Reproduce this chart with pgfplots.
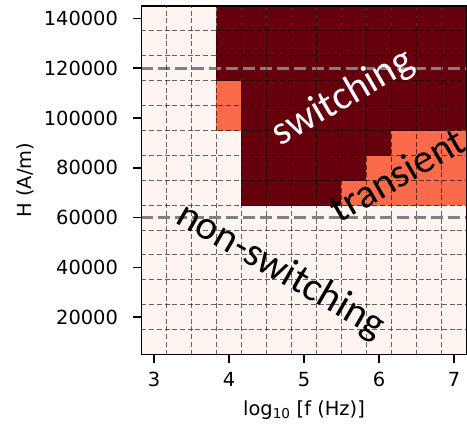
\documentclass[border=0pt]{standalone}
\usepackage{fontspec}
\setmainfont{DejaVu Sans}
\newfontfamily\calib{Carlito}
\usepackage{pgfplots}
\pgfplotsset{compat=1.18}

\begin{document}
\begin{tikzpicture}
\begin{axis}[
  at={(0,0)}, anchor=south west,
  scale only axis, width=325bp, height=348.5bp,
  xmin=2.8333, xmax=7.1667, ymin=5000, ymax=145000,
  xtick={3,4,5,6,7},
  xticklabels={3,4,5,6,7},
  ytick={20000,40000,60000,80000,100000,120000,140000},
  yticklabels={20000,40000,60000,80000,100000,120000,140000},
  minor xtick={3.1667,3.5,3.8333,4.1667,4.5,4.8333,5.1667,5.5,5.8333,6.1667,6.5,6.8333},
  minor ytick={15000,25000,35000,45000,55000,65000,75000,85000,95000,105000,115000,125000,135000},
  grid=minor,
  minor grid style={black, opacity=0.6, line width=1bp, dash pattern=on 5bp off 2.7bp},
  axis on top,
  tick align=outside, xtick pos=bottom, ytick pos=left,
  major tick length=8bp, minor tick length=0pt,
  every tick/.style={black, line width=1.5bp},
  axis line style={line width=1.6bp},
  tick label style={font=\fontsize{19.5}{23}\selectfont},
  yticklabel style={xshift=-12bp},
  xticklabel style={yshift=-6bp},
  scaled y ticks=false,
  colormap={reds}{rgb255=(255,245,240) rgb255=(251,106,74) rgb255=(103,0,13)},
  point meta min=0, point meta max=2,
  xlabel={log\textsubscript{10} [f (Hz)]},
  ylabel={H (A/m)},
  label style={font=\fontsize{19.5}{23}\selectfont},
  xlabel style={at={(axis description cs:0.5,-0.159)}, anchor=center},
  ylabel style={at={(axis description cs:-0.3585,0.5)}, anchor=center},
]
\addplot[matrix plot*, mesh/cols=13, point meta=explicit] coordinates {
(3,10000)[0] (3.3333,10000)[0] (3.6667,10000)[0] (4,10000)[0] (4.3333,10000)[0] (4.6667,10000)[0] (5,10000)[0] (5.3333,10000)[0] (5.6667,10000)[0] (6,10000)[0] (6.3333,10000)[0] (6.6667,10000)[0] (7,10000)[0]
(3,20000)[0] (3.3333,20000)[0] (3.6667,20000)[0] (4,20000)[0] (4.3333,20000)[0] (4.6667,20000)[0] (5,20000)[0] (5.3333,20000)[0] (5.6667,20000)[0] (6,20000)[0] (6.3333,20000)[0] (6.6667,20000)[0] (7,20000)[0]
(3,30000)[0] (3.3333,30000)[0] (3.6667,30000)[0] (4,30000)[0] (4.3333,30000)[0] (4.6667,30000)[0] (5,30000)[0] (5.3333,30000)[0] (5.6667,30000)[0] (6,30000)[0] (6.3333,30000)[0] (6.6667,30000)[0] (7,30000)[0]
(3,40000)[0] (3.3333,40000)[0] (3.6667,40000)[0] (4,40000)[0] (4.3333,40000)[0] (4.6667,40000)[0] (5,40000)[0] (5.3333,40000)[0] (5.6667,40000)[0] (6,40000)[0] (6.3333,40000)[0] (6.6667,40000)[0] (7,40000)[0]
(3,50000)[0] (3.3333,50000)[0] (3.6667,50000)[0] (4,50000)[0] (4.3333,50000)[0] (4.6667,50000)[0] (5,50000)[0] (5.3333,50000)[0] (5.6667,50000)[0] (6,50000)[0] (6.3333,50000)[0] (6.6667,50000)[0] (7,50000)[0]
(3,60000)[0] (3.3333,60000)[0] (3.6667,60000)[0] (4,60000)[0] (4.3333,60000)[0] (4.6667,60000)[0] (5,60000)[0] (5.3333,60000)[0] (5.6667,60000)[0] (6,60000)[0] (6.3333,60000)[0] (6.6667,60000)[0] (7,60000)[0]
(3,70000)[0] (3.3333,70000)[0] (3.6667,70000)[0] (4,70000)[0] (4.3333,70000)[2] (4.6667,70000)[2] (5,70000)[2] (5.3333,70000)[2] (5.6667,70000)[1] (6,70000)[1] (6.3333,70000)[1] (6.6667,70000)[1] (7,70000)[1]
(3,80000)[0] (3.3333,80000)[0] (3.6667,80000)[0] (4,80000)[0] (4.3333,80000)[2] (4.6667,80000)[2] (5,80000)[2] (5.3333,80000)[2] (5.6667,80000)[2] (6,80000)[1] (6.3333,80000)[1] (6.6667,80000)[1] (7,80000)[1]
(3,90000)[0] (3.3333,90000)[0] (3.6667,90000)[0] (4,90000)[0] (4.3333,90000)[2] (4.6667,90000)[2] (5,90000)[2] (5.3333,90000)[2] (5.6667,90000)[2] (6,90000)[2] (6.3333,90000)[1] (6.6667,90000)[1] (7,90000)[1]
(3,100000)[0] (3.3333,100000)[0] (3.6667,100000)[0] (4,100000)[1] (4.3333,100000)[2] (4.6667,100000)[2] (5,100000)[2] (5.3333,100000)[2] (5.6667,100000)[2] (6,100000)[2] (6.3333,100000)[2] (6.6667,100000)[2] (7,100000)[2]
(3,110000)[0] (3.3333,110000)[0] (3.6667,110000)[0] (4,110000)[1] (4.3333,110000)[2] (4.6667,110000)[2] (5,110000)[2] (5.3333,110000)[2] (5.6667,110000)[2] (6,110000)[2] (6.3333,110000)[2] (6.6667,110000)[2] (7,110000)[2]
(3,120000)[0] (3.3333,120000)[0] (3.6667,120000)[0] (4,120000)[2] (4.3333,120000)[2] (4.6667,120000)[2] (5,120000)[2] (5.3333,120000)[2] (5.6667,120000)[2] (6,120000)[2] (6.3333,120000)[2] (6.6667,120000)[2] (7,120000)[2]
(3,130000)[0] (3.3333,130000)[0] (3.6667,130000)[0] (4,130000)[2] (4.3333,130000)[2] (4.6667,130000)[2] (5,130000)[2] (5.3333,130000)[2] (5.6667,130000)[2] (6,130000)[2] (6.3333,130000)[2] (6.6667,130000)[2] (7,130000)[2]
(3,140000)[0] (3.3333,140000)[0] (3.6667,140000)[0] (4,140000)[2] (4.3333,140000)[2] (4.6667,140000)[2] (5,140000)[2] (5.3333,140000)[2] (5.6667,140000)[2] (6,140000)[2] (6.3333,140000)[2] (6.6667,140000)[2] (7,140000)[2]
};
% threshold lines
\addplot[gray, line width=3bp, dash pattern=on 12bp off 5bp] coordinates {(2.8333,120000) (7.1667,120000)};
\addplot[gray, line width=3bp, dash pattern=on 12bp off 5bp] coordinates {(2.8333,60000) (7.1667,60000)};
\coordinate (sw) at (axis cs:5.52,108000);
\coordinate (tr) at (axis cs:6.24,77300);
\coordinate (ns) at (axis cs:4.69,38500);
\end{axis}
\node[rotate=30, text=white, font=\calib\fontsize{41}{44}\selectfont] at (sw) {switching};
\node[rotate=30, text=black, font=\calib\fontsize{41}{44}\selectfont] at (tr) {transient};
\node[rotate=-30, text=black, font=\calib\fontsize{41}{44}\selectfont] at (ns) {non-switching};
\pgfresetboundingbox
\path[use as bounding box] (-141.5bp,-73.5bp) rectangle (325.5bp,354.5bp);
\end{tikzpicture}
\end{document}
